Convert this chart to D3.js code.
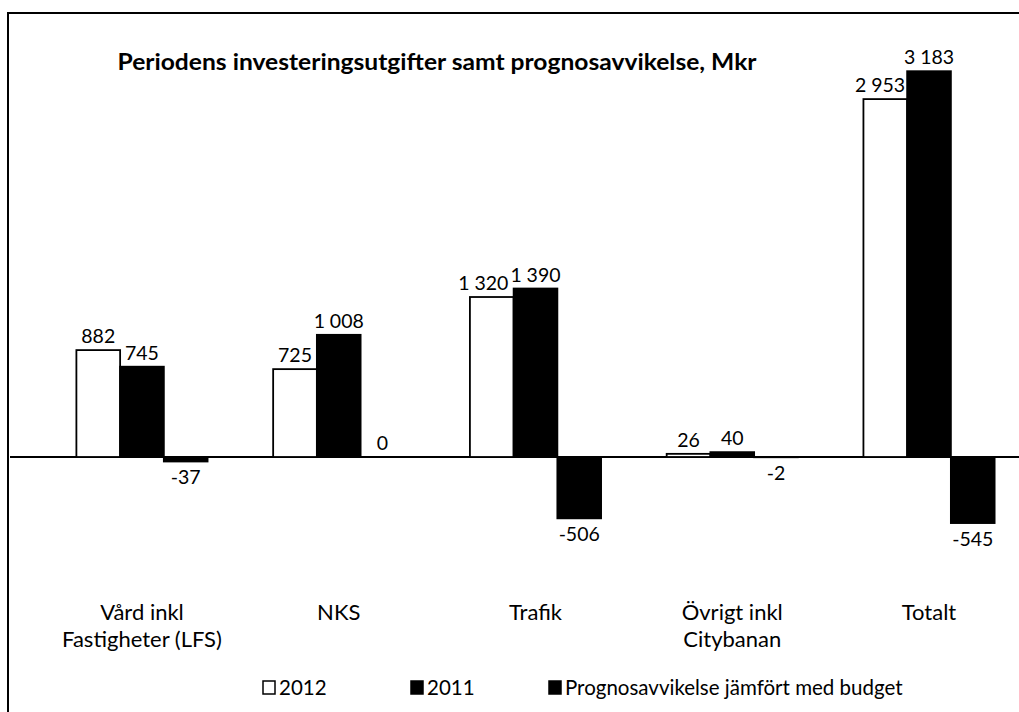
<!DOCTYPE html>
<html><head><meta charset="utf-8">
<script src="https://cdn.jsdelivr.net/npm/d3@7"></script>
<style>
html,body{margin:0;padding:0;background:#fff;}
svg text{font-family:Lato,"Open Sans",sans-serif;fill:#000;}
</style></head>
<body><svg id="c" width="1019" height="712"></svg>
<script>
const title = "Periodens investeringsutgifter samt prognosavvikelse,  Mkr";
const categories = [["Vård inkl","Fastigheter (LFS)"],["NKS"],["Trafik"],["Övrigt inkl","Citybanan"],["Totalt"]];
const seriesNames = ["2012","2011","Prognosavvikelse jämfört med budget"];
const values2012 = [882, 725, 1320, 26, 2953];
const values2011 = [745, 1008, 1390, 40, 3183];
const valuesPrognos = [-37, 0, -506, -2, -545];

const seriesVals = [values2012, values2011, valuesPrognos];
const fills = ["#ffffff", "#000000", "#000000"];
const catKeys = categories.map(c => c.join(" "));

const svg = d3.select("#c");
const fmt = d3.formatLocale({decimal:",", thousands:"\u2005", grouping:[3], currency:["",""], minus:"-"}).format(",d");

// chart border
svg.append("rect").attr("x",8).attr("y",13).attr("width",1100).attr("height",800)
  .attr("fill","none").attr("stroke","#000").attr("stroke-width",2);

const y = d3.scaleLinear().domain([-600, 3300]).range([457 + 600*0.1212, 457 - 3300*0.1212]);
const x0 = d3.scaleBand().domain(catKeys).range([43.6, 1027.4]).paddingInner(1/3).paddingOuter(1/6);
const x1 = d3.scaleBand().domain(seriesNames).range([0, x0.bandwidth()]);

// title
svg.append("text").attr("x", 437).attr("y", 70).attr("text-anchor","middle")
  .attr("font-size", 22).attr("font-weight","bold")
  .attr("textLength", 639).attr("lengthAdjust","spacingAndGlyphs").text(title);

const data = [];
catKeys.forEach((c,i) => seriesNames.forEach((s,j) => data.push({c, s, j, v: seriesVals[j][i]})));

// zero axis line
svg.append("line").attr("x1", 10).attr("x2", 1019).attr("y1", y(0)).attr("y2", y(0))
  .attr("stroke","#000").attr("stroke-width",2);

const bars = svg.append("g").selectAll("rect").data(data).join("rect")
  .attr("x", d => x0(d.c) + x1(d.s))
  .attr("width", x1.bandwidth())
  .attr("y", d => Math.min(y(d.v), y(0)))
  .attr("height", d => Math.abs(y(d.v) - y(0)))
  .attr("fill", d => fills[d.j])
  .attr("stroke", "#000").attr("stroke-width", 1.8);

// data labels
const labels = svg.append("g").selectAll("text").data(data).join("text")
  .attr("x", d => x0(d.c) + x1(d.s) + x1.bandwidth()/2)
  .attr("y", d => d.v >= 0 ? y(d.v) - 7 : y(d.v) + 23)
  .attr("text-anchor","middle").attr("font-size", 19.5)
  .text(d => fmt(d.v));

// simple collision pass: shift a label leftward if it overlaps the next label or next bar
const nodes = labels.nodes(), barNodes = bars.nodes();
function overlapShift(ba, bb) {
  const h = ba.x + ba.width + 2 - bb.x;
  const v = Math.min(ba.y + ba.height, bb.y + bb.height) - Math.max(ba.y, bb.y);
  return (h > 0 && v > 0) ? h : 0;
}
for (let i = 0; i < nodes.length - 1; i++) {
  if (data[i].c !== data[i+1].c) continue;
  const a = nodes[i];
  const ba = a.getBBox();
  const s = Math.max(overlapShift(ba, nodes[i+1].getBBox()), overlapShift(ba, barNodes[i+1].getBBox()));
  if (s > 0) a.setAttribute("x", +a.getAttribute("x") - s);
}

// category labels
const cg = svg.append("g");
categories.forEach((lines, i) => {
  lines.forEach((t, k) => {
    cg.append("text").attr("x", x0(catKeys[i]) + x0.bandwidth()/2)
      .attr("y", 620 + k*27).attr("text-anchor","middle").attr("font-size", 22).text(t);
  });
});

// legend
const legX = [263, 411, 549];
const lg = svg.append("g");
seriesNames.forEach((s, j) => {
  lg.append("rect").attr("x", legX[j]).attr("y", 681).attr("width", 12).attr("height", 13)
    .attr("fill", fills[j]).attr("stroke","#000").attr("stroke-width",1.5);
  lg.append("text").attr("x", legX[j] + 16).attr("y", 695).attr("font-size", 20.5).text(s);
});
</script></body></html>
